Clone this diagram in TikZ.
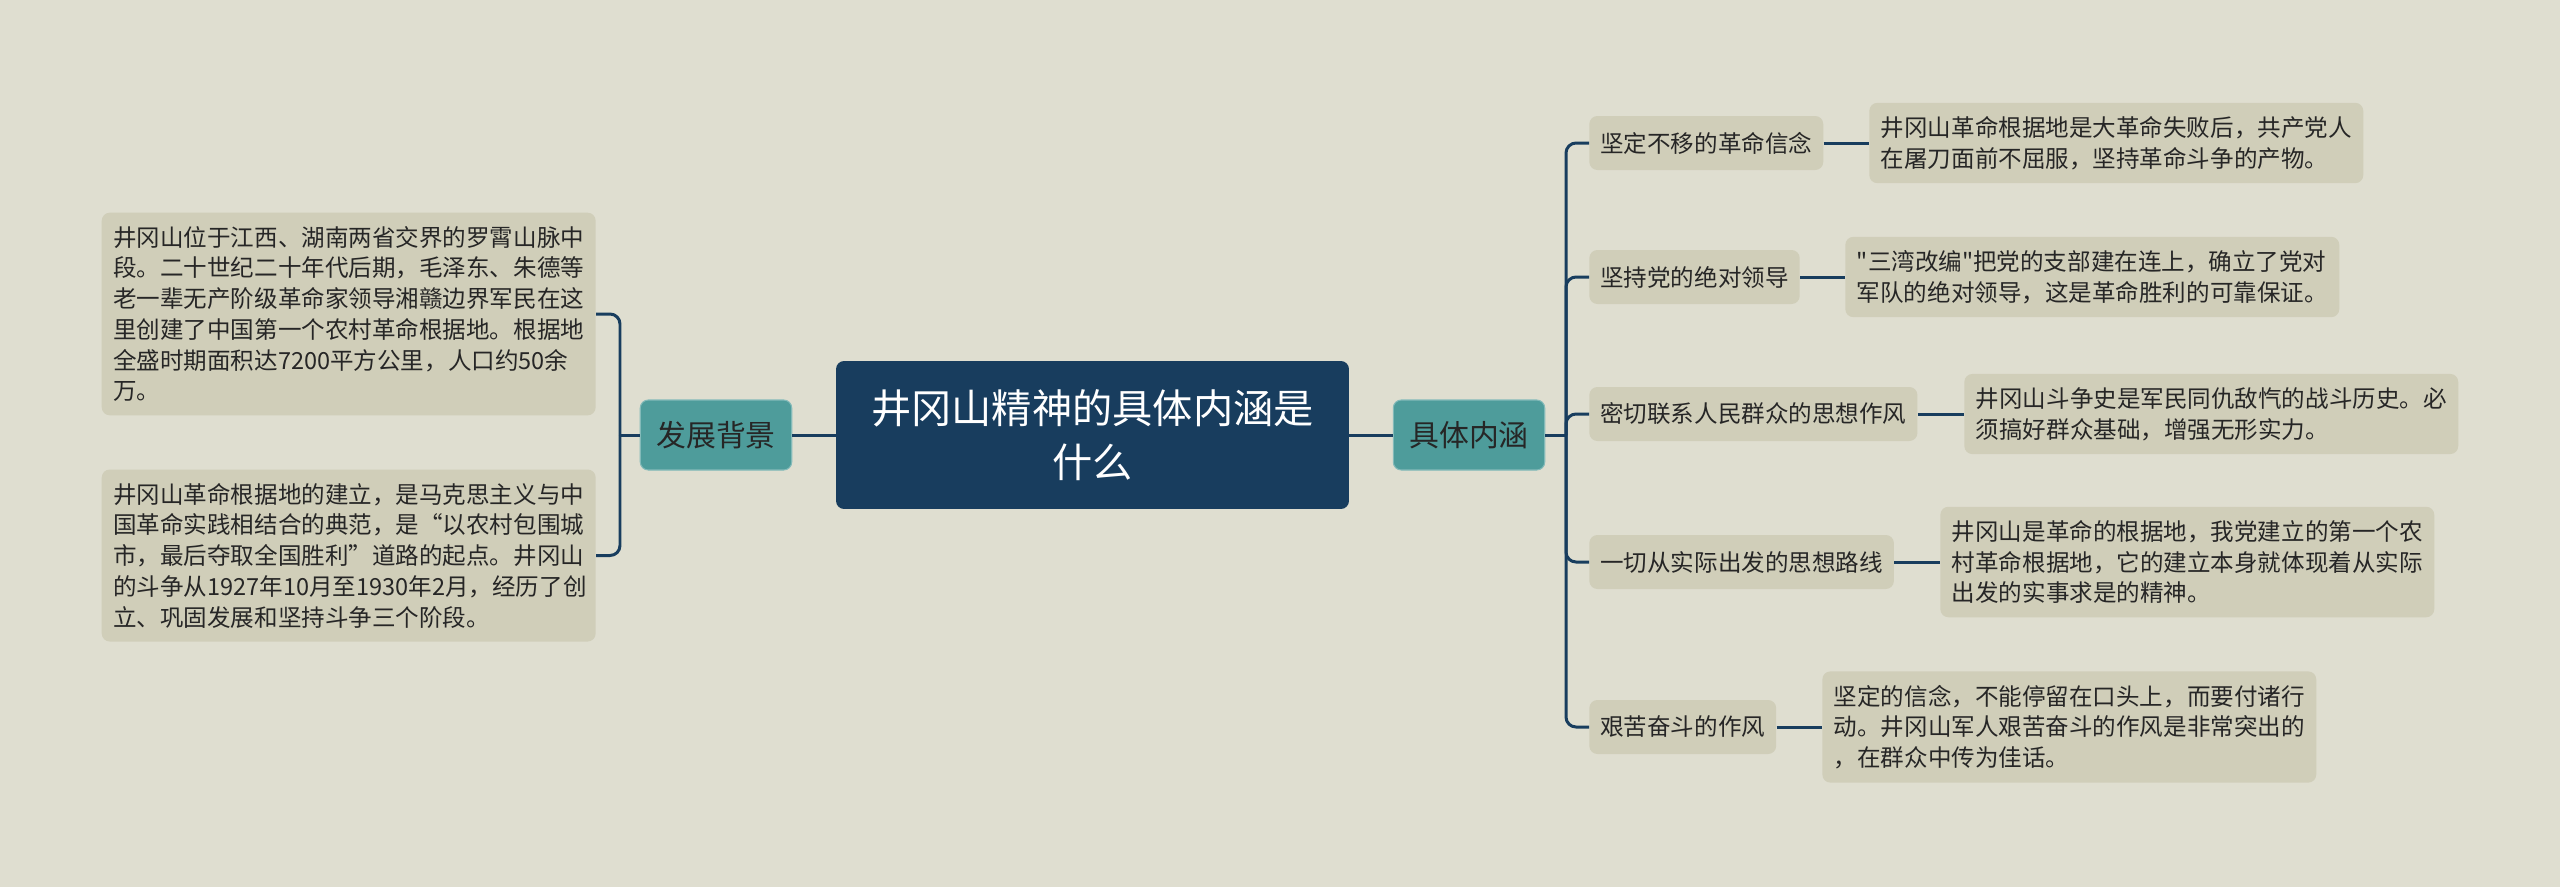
\documentclass[tikz,border=0pt]{standalone}
\usepackage{fontspec}
\newfontfamily\cjk{Noto Sans CJK SC}
\definecolor{bgbeige}{RGB}{223,222,208}
\definecolor{leafgray}{RGB}{208,206,185}
\definecolor{mapteal}{RGB}{78,156,155}
\definecolor{mapnavy}{RGB}{24,61,94}

\begin{document}
\begin{tikzpicture}[x=0.02cm, y=-0.02cm,
    link/.style={draw=mapnavy, line width=1.7pt, rounded corners=0.2cm},
    leaf/.style={fill=leafgray, rounded corners=0.16cm, text width=9.42cm, align=left,
      inner xsep=0.23cm, inner ysep=0.27cm, text=black!85,
      font=\cjk\fontsize{13.4pt}{17.5pt}\selectfont},
    topic/.style={fill=leafgray, rounded corners=0.16cm, inner xsep=0.22cm,
      minimum height=1.08cm, text=black!85, font=\cjk\fontsize{13.4pt}{17.5pt}\selectfont},
    branch/.style={fill=mapteal, draw=mapteal!70!white, line width=0.6pt, rounded corners=0.16cm,
      inner xsep=0.32cm, minimum height=1.4cm, text=black!85,
      font=\cjk\fontsize{17pt}{20pt}\selectfont},
    rootbox/.style={fill=mapnavy, rounded corners=0.16cm, minimum width=10.26cm,
      minimum height=2.96cm, align=center, text=white,
      font=\cjk\fontsize{22.9pt}{30.6pt}\selectfont}]

  % background
  \fill[bgbeige] (0,0) rectangle (2560,887);
  \useasboundingbox (0,0) rectangle (2560,887);

  % centre
  \node[rootbox] (root) at (1092.5,435) {井冈山精神的具体内涵是\\什么};
  \node[branch] (bg) at (716,435) {发展背景};
  \node[branch] (nh) at (1469,435) {具体内涵};

  % left side
  \node[leaf, anchor=east] (bg1) at (596,314) {井冈山位于江西、湖南两省交界的罗霄山脉中\\段。二十世纪二十年代后期，毛泽东、朱德等\\老一辈无产阶级革命家领导湘赣边界军民在这\\里创建了中国第一个农村革命根据地。根据地\\全盛时期面积达7200平方公里，人口约50余\\万。};
  \node[leaf, anchor=east] (bg2) at (596,555.5) {井冈山革命根据地的建立，是马克思主义与中\\国革命实践相结合的典范，是“以农村包围城\\市，最后夺取全国胜利”道路的起点。井冈山\\的斗争从1927年10月至1930年2月，经历了创\\立、巩固发展和坚持斗争三个阶段。};

  % right side
  \node[topic, anchor=west] (t1) at (1589,143) {坚定不移的革命信念};
  \node[topic, anchor=west] (t2) at (1589,277) {坚持党的绝对领导};
  \node[topic, anchor=west] (t3) at (1589,414) {密切联系人民群众的思想作风};
  \node[topic, anchor=west] (t4) at (1589,562) {一切从实际出发的思想路线};
  \node[topic, anchor=west] (t5) at (1589,727) {艰苦奋斗的作风};

  \node[leaf, anchor=west] (d1) at (1869,143) {井冈山革命根据地是大革命失败后，共产党人\\在屠刀面前不屈服，坚持革命斗争的产物。};
  \node[leaf, anchor=west] (d2) at (1845,277) {"三湾改编"把党的支部建在连上，确立了党对\\军队的绝对领导，这是革命胜利的可靠保证。};
  \node[leaf, anchor=west] (d3) at (1964,414) {井冈山斗争史是军民同仇敌忾的战斗历史。必\\须搞好群众基础，增强无形实力。};
  \node[leaf, anchor=west] (d4) at (1940,562) {井冈山是革命的根据地，我党建立的第一个农\\村革命根据地，它的建立本身就体现着从实际\\出发的实事求是的精神。};
  \node[leaf, anchor=west] (d5) at (1822,727) {坚定的信念，不能停留在口头上，而要付诸行\\动。井冈山军人艰苦奋斗的作风是非常突出的\\，在群众中传为佳话。};

  % connectors
  \coordinate (lj) at (620,435);
  \coordinate (rj) at (1566,435);
  \draw[link] (root.west) -- (bg.east);
  \draw[link] (bg.west) -- (lj);
  \draw[link] (lj) |- (bg1.east);
  \draw[link] (lj) |- (bg2.east);
  \draw[link] (root.east) -- (nh.west);
  \draw[link] (nh.east) -- (rj);
  \foreach \t in {t1,t2,t3,t4,t5}
    \draw[link] (rj) |- (\t.west);
  \draw[link] (t1.east) -- (d1.west);
  \draw[link] (t2.east) -- (d2.west);
  \draw[link] (t3.east) -- (d3.west);
  \draw[link] (t4.east) -- (d4.west);
  \draw[link] (t5.east) -- (d5.west);
\end{tikzpicture}
\end{document}
